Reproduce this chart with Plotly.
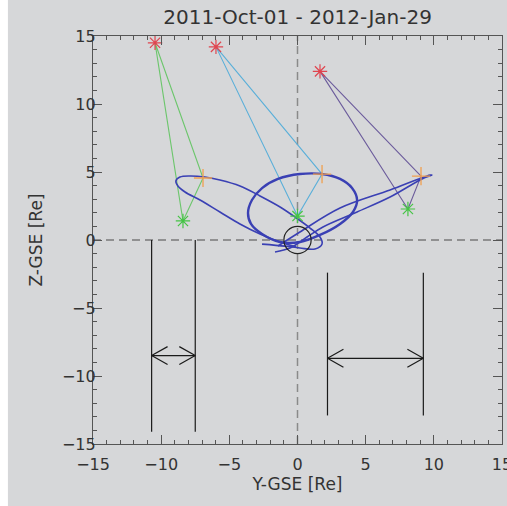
import plotly.graph_objects as go

# ---- data (Y-GSE, Z-GSE in Re) ----
title_text = "2011-Oct-01 - 2012-Jan-29"
red_y = [-10.45, -5.98, 1.65]
red_z = [14.5, 14.2, 12.4]
orange_y = [-6.93, 1.8, 9.06]
orange_z = [4.56, 4.85, 4.7]
green_y = [-8.4, 0.0, 8.1]
green_z = [1.4, 1.76, 2.28]
tri_colors = ["#6cc66c", "#5aafd9", "#6c5c9c"]

orbit_left_y = [-0.1, -1.28, -2.75, -4.22, -5.69, -7.15, -8.25, -8.77, -8.92, -8.62, -7.89, -6.79,
                -5.69, -4.22, -2.75, -1.28, -0.18, 0.92, 1.65, 1.8, 1.28, 0.18, -0.92, -2.6]
orbit_left_z = [-0.5, -0.15, 0.44, 1.18, 2.06, 2.94, 3.53, 3.97, 4.34, 4.63, 4.71, 4.63,
                4.41, 3.97, 3.24, 2.43, 1.69, 0.88, 0.22, -0.29, -0.66, -0.59, -0.45, -0.3]
orbit_mid_y = [-3.63, -3.34, -2.6, -1.43, 0.18, 1.8, 3.12, 4.0, 4.37, 4.07, 3.12, 1.65, 0.18,
               -1.28, -2.6, -3.41, -3.63]
orbit_mid_z = [1.99, 2.94, 3.82, 4.49, 4.85, 4.85, 4.49, 3.82, 2.94, 2.06, 1.18, 0.37, -0.15,
               -0.15, 0.44, 1.18, 1.99]
orbit_right_y = [-1.43, 0.18, 3.12, 6.79, 9.5, 9.87, 9.13, 6.79, 4.37, 1.87, 0.7, -0.55, -1.65]
orbit_right_z = [-0.44, 0.59, 2.35, 3.68, 4.71, 4.78, 4.49, 3.16, 2.06, 0.96, 0.22, -0.59, -0.88]

bars_left_y = [-10.7, -7.5]
bars_left_z = [0.0, -14.1]
bars_right_y = [2.2, 9.23]
bars_right_z = [-2.4, -12.9]
arrow_left_z = -8.5
arrow_right_z = -8.7

fig = go.Figure()

# triangles
for i in range(3):
    fig.add_trace(go.Scatter(
        x=[red_y[i], orange_y[i], green_y[i], red_y[i]],
        y=[red_z[i], orange_z[i], green_z[i], red_z[i]],
        mode="lines", line=dict(color=tri_colors[i], width=1.1), hoverinfo="skip"))

# orbits
orbit_color = "#3a40b4"
for oy, oz, w in [(orbit_left_y, orbit_left_z, 1.6), (orbit_mid_y, orbit_mid_z, 2.4),
                  (orbit_right_y, orbit_right_z, 1.6)]:
    fig.add_trace(go.Scatter(x=oy, y=oz, mode="lines",
                             line=dict(color=orbit_color, width=w, shape="spline", smoothing=1.0),
                             hoverinfo="skip"))

# markers (open symbols take their stroke colour from marker.color)
fig.add_trace(go.Scatter(x=red_y, y=red_z, mode="markers",
                         marker=dict(symbol="asterisk-open", size=12, color="#e0454f",
                                     line=dict(color="#e0454f", width=1.2))))
fig.add_trace(go.Scatter(x=green_y, y=green_z, mode="markers",
                         marker=dict(symbol="asterisk-open", size=12, color="#45c445",
                                     line=dict(color="#45c445", width=1.2))))
fig.add_trace(go.Scatter(x=orange_y, y=orange_z, mode="markers",
                         marker=dict(symbol="cross-thin-open", size=13, color="#f0a050",
                                     line=dict(color="#f0a050", width=1.3))))

# bars and arrows
def bar_arrow(by, bz, az):
    xs, ys = [], []
    for b in by:
        xs += [b, b, None]
        ys += [bz[0], bz[1], None]
    xs += [by[0], by[1], None]
    ys += [az, az, None]
    hx, hz = 1.17, 0.66
    xs += [by[0] + hx, by[0], by[0] + hx, None, by[1] - hx, by[1], by[1] - hx, None]
    ys += [az + hz, az, az - hz, None, az + hz, az, az - hz, None]
    return xs, ys

for by, bz, az in [(bars_left_y, bars_left_z, arrow_left_z), (bars_right_y, bars_right_z, arrow_right_z)]:
    xs, ys = bar_arrow(by, bz, az)
    fig.add_trace(go.Scatter(x=xs, y=ys, mode="lines", line=dict(color="#1a1a1a", width=1.2),
                             hoverinfo="skip"))

shapes = [
    dict(type="rect", xref="paper", yref="paper", x0=-0.23, x1=-0.208, y0=-0.2, y1=1.2,
         fillcolor="white", line=dict(width=0), layer="below"),
    dict(type="line", xref="x", yref="y", x0=-15, x1=15, y0=0, y1=0,
         line=dict(color="#7a7a7a", width=1.5, dash="8px,5px"), layer="below"),
    dict(type="line", xref="x", yref="y", x0=0, x1=0, y0=-15, y1=15,
         line=dict(color="#8a8a8a", width=1.5, dash="8px,5px"), layer="below"),
    dict(type="circle", xref="x", yref="y", x0=-1, x1=1, y0=-1, y1=1,
         line=dict(color="#222222", width=1.2)),
]

axis_common = dict(range=[-15, 15], dtick=5, tick0=-15, ticks="inside", ticklen=9, tickwidth=1,
                   tickcolor="#555555", showline=True, linecolor="#555555", linewidth=1.2,
                   mirror="allticks", showgrid=False, zeroline=False, automargin=False,
                   ticklabeloverflow="allow",
                   minor=dict(dtick=1, ticks="inside", ticklen=4, tickcolor="#555555", showgrid=False),
                   tickfont=dict(family="DejaVu Sans", size=16, color="#333333"))

fig.update_layout(
    width=507, height=506,
    margin=dict(l=93, r=5, t=36, b=62, autoexpand=False),
    paper_bgcolor="#d6d7d9", plot_bgcolor="#d6d7d9",
    showlegend=False,
    shapes=shapes,
    xaxis=dict(**axis_common, ticklabelstandoff=6,
               title=dict(text="Y-GSE [Re]", standoff=2,
                          font=dict(family="DejaVu Sans", size=17, color="#333333"))),
    yaxis=dict(**axis_common, ticklabelstandoff=-7,
               title=dict(text="Z-GSE [Re]", standoff=14,
                          font=dict(family="DejaVu Sans", size=17, color="#333333"))),
    title=dict(text=title_text, x=0.587, xanchor="center", y=0.966, yanchor="middle",
               font=dict(family="DejaVu Sans", size=20, color="#333333")),
)

fig.write_html("out.html", config={"displayModeBar": False},
               post_script="document.body.style.margin='0';document.body.style.overflow='hidden';"
                           "document.documentElement.style.overflow='hidden';"
                           "document.body.style.background='#d6d7d9';"
                           "document.documentElement.style.background='#d6d7d9';")
